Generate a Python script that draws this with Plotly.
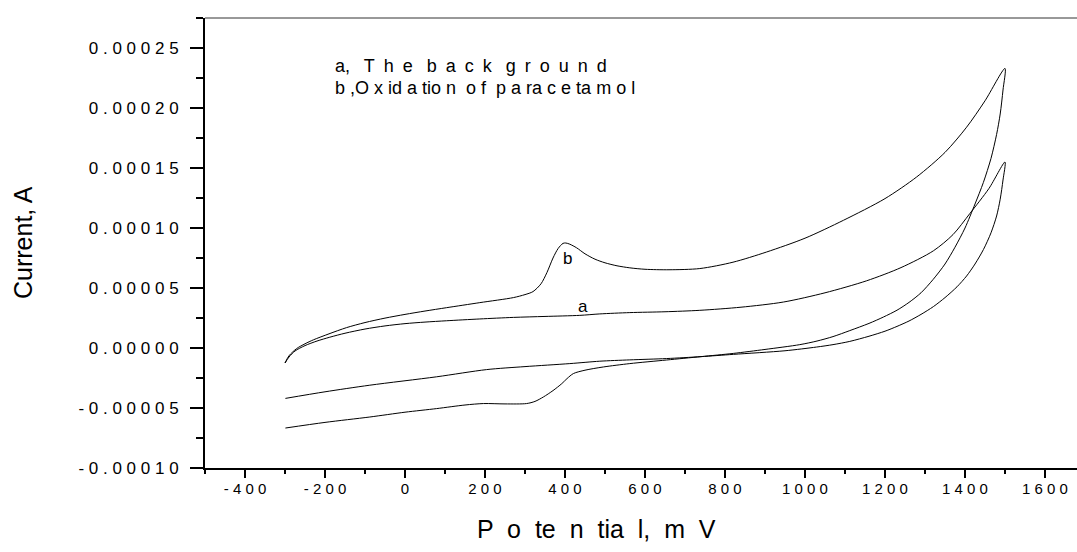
import plotly.graph_objects as go

# ---- data (potential in mV, current in microamps; converted to A below) ----
b_fwd_E = [-300, -290, -271, -250, -229, -190, -146, -100, -50, 0, 50, 104, 187, 271, 300, 320, 340, 355, 370,
           383, 395, 402, 412, 429, 450, 475, 500, 530, 562, 600, 660, 737, 820, 904, 1000, 1096, 1200, 1279,
           1350, 1404, 1450, 1500]
b_fwd_I = [-12.5, -6.5, -0.5, 3.5, 6.8, 11.8, 17.0, 21.2, 24.9, 28.0, 30.8, 33.6, 37.8, 42.0, 44.5, 47.0, 53.5, 63.0,
           75.0, 83.0, 87.2, 87.5, 86.5, 83.5, 78.5, 74.0, 71.0, 68.5, 66.8, 65.6, 65.2, 66.2, 71.5, 80.0, 91.5, 106.4,
           124.5, 142.5, 163.0, 184.0, 206.0, 233.0]
b_rev_E = [1495, 1488, 1479, 1465, 1446, 1425, 1400, 1375, 1350, 1320, 1290, 1260, 1230, 1196, 1160, 1112, 1070,
           1030, 987, 900, 821, 740, 654, 562, 496, 450, 421, 405, 392, 370, 346, 325, 304, 250, 196, 150, 79, 0,
           -88, -200, -299]
b_rev_I = [215.0, 195.0, 178.0, 158.0, 138.0, 120.0, 100.0, 84.0, 70.0, 57.0, 46.0, 38.0, 31.5, 25.8, 20.5, 14.5, 9.5,
           5.8, 2.8, -1.2, -4.5, -7.2, -10.0, -13.0, -15.8, -18.5, -21.3, -25.5, -29.7, -35.5, -40.8, -44.5, -46.3,
           -46.6, -46.3, -47.5, -50.5, -53.5, -57.5, -62.0, -66.7]

a_fwd_E = [-300, -290, -275, -250, -220, -188, -150, -100, -50, 0, 50, 104, 187, 271, 350, 437, 487, 562, 650, 737,
           840, 946, 1050, 1154, 1240, 1321, 1370, 1412, 1460, 1500]
a_fwd_I = [-12.5, -7.5, -2.5, 2.0, 5.8, 9.0, 12.3, 15.8, 18.4, 20.3, 21.6, 22.7, 24.2, 25.5, 26.3, 27.2, 28.4, 29.5,
           30.2, 31.4, 34.0, 38.3, 46.0, 56.0, 67.0, 81.0, 94.5, 112.0, 133.0, 155.0]
a_rev_E = [1495, 1488, 1479, 1465, 1446, 1425, 1404, 1380, 1350, 1321, 1290, 1260, 1230, 1200, 1160, 1112, 1070,
           1029, 950, 821, 740, 654, 562, 487, 412, 300, 204, 79, -88, -200, -299]
a_rev_I = [140.0, 124.0, 110.0, 96.0, 82.0, 70.0, 60.0, 51.0, 42.0, 34.5, 28.0, 22.5, 18.0, 14.0, 9.8, 5.5, 2.8,
           0.8, -2.3, -5.3, -7.2, -8.8, -9.9, -11.0, -13.0, -15.5, -18.0, -24.0, -31.0, -36.5, -42.0]

x_tickvals = [-400, -200, 0, 200, 400, 600, 800, 1000, 1200, 1400, 1600]
y_tickvals = [-0.00010, -0.00005, 0.0, 0.00005, 0.00010, 0.00015, 0.00020, 0.00025]
y_ticklabels = ["-0.00010", "-0.00005", "0.00000", "0.00005", "0.00010", "0.00015", "0.00020", "0.00025"]

EN = "\u2002"
legend_line_a = "a," + EN + " T" + EN + "h" + EN + "e" + EN + " b" + EN + "a" + EN + "c" + EN + "k" + EN + " g" + EN + "r" + EN + "o" + EN + "u" + EN + "n" + EN + "d"
legend_line_b = "b ,O x id a tio n  o f  p a ra c e ta m o l"
x_title = "P  o  te  n  tia  l,  m  V"
y_title = "Current, A"

# ---- build ----
def spaced(s):
    return " ".join(list(s))

FONT = "Liberation Sans, Arial, sans-serif"

def to_amp(vals):
    return [v * 1e-6 for v in vals]

fig = go.Figure()
for E, I in [(b_fwd_E + b_rev_E, b_fwd_I + b_rev_I), (a_fwd_E + a_rev_E, a_fwd_I + a_rev_I)]:
    fig.add_trace(go.Scatter(x=E, y=to_amp(I), mode="lines",
                             line=dict(color="black", width=1, shape="spline", smoothing=0.8),
                             showlegend=False, hoverinfo="skip"))

fig.update_layout(
    width=1077, height=552,
    margin=dict(l=205, r=0, t=18, b=84),
    paper_bgcolor="white", plot_bgcolor="white",
    font=dict(family=FONT, color="black"),
    showlegend=False,
)
fig.update_xaxes(
    range=[-500, 1680], showgrid=False, zeroline=False,
    showline=True, linecolor="black", linewidth=2,
    ticks="outside", ticklen=8, tickwidth=2, tickcolor="black",
    tickmode="array", tickvals=x_tickvals, ticktext=[spaced(str(v)) for v in x_tickvals],
    tickfont=dict(size=15, family=FONT, color="black"),
    ticklabelstandoff=-2,
    minor=dict(tickmode="linear", tick0=-500, dtick=100, ticks="outside", ticklen=4, tickwidth=2, tickcolor="black"),
)
fig.update_yaxes(
    range=[-0.0001, 0.000275], showgrid=False, zeroline=False,
    showline=True, linecolor="black", linewidth=2,
    ticks="outside", ticklen=13, tickwidth=2, tickcolor="black",
    tickmode="array", tickvals=y_tickvals, ticktext=[spaced(t) for t in y_ticklabels],
    tickfont=dict(size=17, family=FONT, color="black"),
    ticklabelstandoff=8,
    minor=dict(tickmode="linear", tick0=0, dtick=0.000025, ticks="outside", ticklen=7, tickwidth=2, tickcolor="black"),
)
# top frame line
fig.add_shape(type="line", xref="paper", yref="paper", x0=0, x1=1, y0=1, y1=1,
              line=dict(color="#333333", width=1))

for txt, py in [(legend_line_a, 66), (legend_line_b, 88)]:
    fig.add_annotation(x=(333 - 205) / 872, y=(468 - py) / 450, xref="paper", yref="paper",
                       text=txt, showarrow=False, xanchor="left", yanchor="middle",
                       font=dict(size=18, family=FONT, color="black"))
# curve labels
fig.add_annotation(x=405, y=7.43e-5, xref="x", yref="y", text="b", showarrow=False,
                   font=dict(size=17, family=FONT, color="black"))
fig.add_annotation(x=444, y=3.43e-5, xref="x", yref="y", text="a", showarrow=False,
                   font=dict(size=17, family=FONT, color="black"))
# axis titles
fig.add_annotation(x=(596 - 205) / 872, y=(468 - 529) / 450, xref="paper", yref="paper",
                   text=x_title, showarrow=False, xanchor="center", yanchor="middle",
                   font=dict(size=25, family=FONT, color="black"))
fig.add_annotation(x=(23 - 205) / 872, y=(468 - 243) / 450, xref="paper", yref="paper",
                   text=y_title, showarrow=False, textangle=-90, xanchor="center", yanchor="middle",
                   font=dict(size=25, family=FONT, color="black"))

fig.write_html("out.html")
